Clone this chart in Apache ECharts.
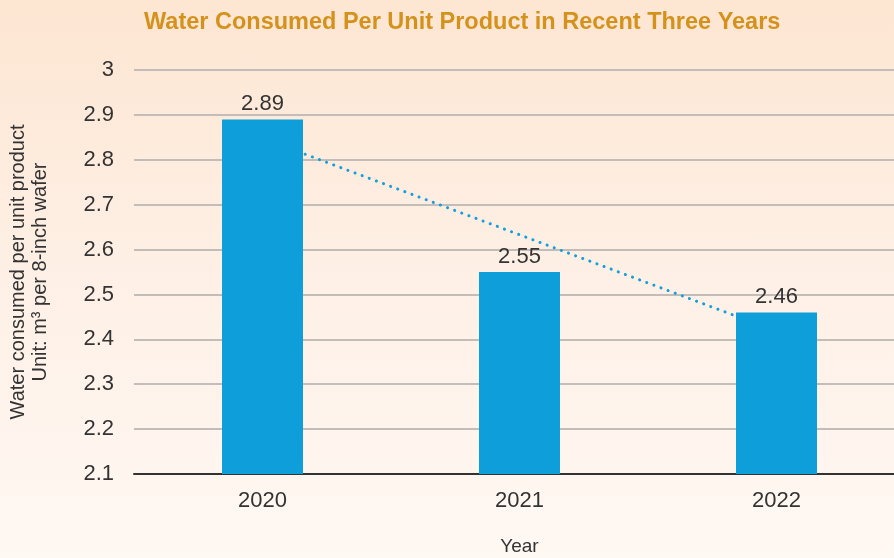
<!DOCTYPE html>
<html><head><meta charset="utf-8">
<script src="https://cdn.jsdelivr.net/npm/echarts@6/dist/echarts.min.js"></script>
<style>html,body{margin:0;padding:0;}#c{width:894px;height:558px;background:linear-gradient(180deg,#FDE6D2 0%,#FEF0E6 50%,#FFF8F3 100%);}</style>
</head><body><div id="c"></div>
<script>
const categories = ['2020', '2021', '2022'];
const values = [2.89, 2.55, 2.46];
const trend = [2.848, 2.633, 2.418];
const yTicks = [2.1, 2.2, 2.3, 2.4, 2.5, 2.6, 2.7, 2.8, 2.9, 3];

const chart = echarts.init(document.getElementById('c'), null, {renderer: 'canvas'});
const font = 'Liberation Sans, Arial, Helvetica, sans-serif';
chart.setOption({
  backgroundColor: 'transparent',
  animation: false,
  title: {
    text: 'Water Consumed Per Unit Product in Recent Three Years',
    left: 139, top: 6,
    textStyle: {color: '#D4921C', fontSize: 23.5, fontWeight: 'bold', fontFamily: font}
  },
  grid: {left: 134, top: 70, width: 771, height: 404, containLabel: false, outerBoundsMode: 'none'},
  xAxis: {
    type: 'category', data: categories,
    axisLine: {show: true, lineStyle: {color: '#333', width: 2}},
    axisTick: {show: false},
    axisLabel: {color: '#333', fontSize: 22, fontFamily: font, margin: 16},
    name: 'Year', nameLocation: 'middle', nameGap: 63,
    nameTextStyle: {color: '#333', fontSize: 19, fontFamily: font}
  },
  yAxis: {
    type: 'value', min: 2.1, max: 3, interval: 0.1,
    axisLine: {show: false}, axisTick: {show: false},
    splitLine: {lineStyle: {color: '#C2BDB8', width: 2}},
    axisLabel: {color: '#333', fontSize: 22, fontFamily: font, margin: 20,
      formatter: v => { const t = yTicks.find(x => Math.abs(x - v) < 1e-6); return t === undefined ? '' : String(t); }},
    name: 'Water consumed per unit product\nUnit: m³ per 8-inch wafer',
    nameLocation: 'middle', nameGap: 83, nameRotate: 90,
    nameTextStyle: {color: '#333', fontSize: 20, fontFamily: font, lineHeight: 22}
  },
  series: [
    {
      type: 'line', data: trend, z: 1, symbol: 'none',
      lineStyle: {color: '#129FDB', width: 3, type: [0.1, 7.5], cap: 'round'}
    },
    {
      type: 'bar', data: values, barWidth: 81, z: 2,
      itemStyle: {color: '#0E9FDA'},
      label: {show: true, position: 'top', distance: 4, color: '#333', fontSize: 22, fontFamily: font}
    }
  ]
});
</script></body></html>
